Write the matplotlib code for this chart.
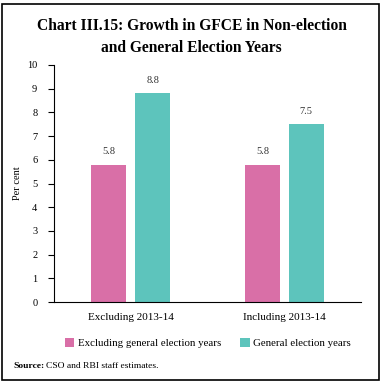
import matplotlib.pyplot as plt
import numpy as np
from matplotlib.patches import Rectangle

categories = ["Excluding 2013-14", "Including 2013-14"]
series_names = ["Excluding general election years", "General election years"]
non_election = [5.8, 5.8]
election = [8.8, 7.5]
yticks = list(range(0, 11))

pink = "#D96FA7"
teal = "#5DC4BC"

plt.rcParams['font.family'] = ['Liberation Serif', 'DejaVu Serif']

fig = plt.figure(figsize=(3.83, 3.82), dpi=100)
ax = fig.add_axes([0.141, 0.209, 0.802, 0.621])

x = np.arange(len(categories))
w = 0.23
off = 0.143
b1 = ax.bar(x - off, non_election, w, color=pink, label=series_names[0])
b2 = ax.bar(x + off, election, w, color=teal, label=series_names[1])
for bars, vals in [(b1, non_election), (b2, election)]:
    for r, v in zip(bars, vals):
        ax.text(r.get_x() + r.get_width() / 2, v + 0.35, f"{v:.1f}",
                ha="center", va="bottom", fontsize=7.5, color="#333333")

ax.set_xlim(-0.5, 1.5)
ax.set_ylim(0, 10)
ax.set_yticks(yticks)
ax.set_xticks(x)
ax.set_xticklabels(categories, fontsize=8)
ax.tick_params(axis="x", length=0, pad=8)
ax.tick_params(axis="y", labelsize=7.5, length=4, width=0.8, pad=8)
ax.spines["top"].set_visible(False)
ax.spines["right"].set_visible(False)
ax.set_ylabel("Per cent", fontsize=7.5, labelpad=4)

fig.text(0.5, 0.903, "Chart III.15: Growth in GFCE in Non-election\nand General Election Years",
         ha="center", va="center", fontsize=11.2, fontweight="bold", linespacing=1.45)

fig.legend(handles=[b1, b2], loc="center", bbox_to_anchor=(0.543, 0.102), ncol=2,
           frameon=False, fontsize=7.8, handlelength=0.9, handleheight=0.9,
           handletextpad=0.3, columnspacing=1.8)

t = fig.text(0.034, 0.043, "Source:", fontsize=6.8, fontweight="bold", va="center")
fig.canvas.draw()
bb = t.get_window_extent()
fig.text(bb.x1 / fig.bbox.width + 0.006, 0.043, "CSO and RBI staff estimates.",
         fontsize=6.8, va="center")

fig.patches.append(Rectangle((0.005, 0.006), 0.985, 0.984, transform=fig.transFigure,
                             fill=False, edgecolor="black", linewidth=1.2))

fig.savefig("out.png", dpi=100)
